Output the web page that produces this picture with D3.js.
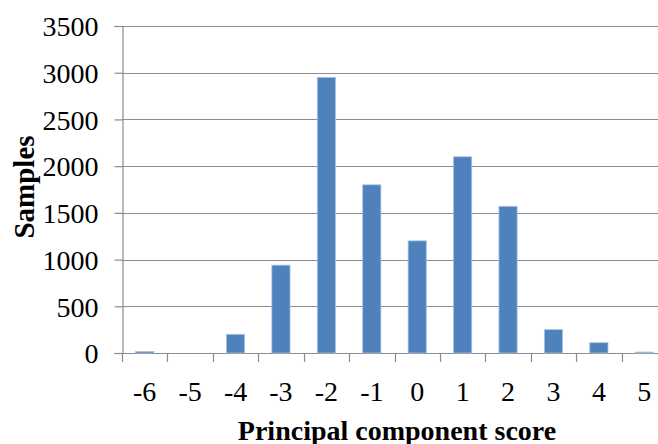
<!DOCTYPE html>
<html>
<head>
<meta charset="utf-8">
<script src="https://cdn.jsdelivr.net/npm/d3@7"></script>
<style>
  html, body { margin: 0; padding: 0; background: #fff; }
  svg { display: block; }
  svg text { font-family: "Liberation Serif", "Times New Roman", Times, "DejaVu Serif", serif; fill: #000; }
</style>
</head>
<body>
<div id="chart"></div>
<script>
// data
const scores = ["-6", "-5", "-4", "-3", "-2", "-1", "0", "1", "2", "3", "4", "5"];
const samples = [15, 0, 200, 940, 2950, 1800, 1200, 2100, 1570, 250, 110, 10];
const yTicks = [0, 500, 1000, 1500, 2000, 2500, 3000, 3500];

const width = 658, height = 444;
// plot area (the right side is cut off by the window, like the original)
const plot = { left: 122, right: 667, top: 26, bottom: 353 };

const svg = d3.select("#chart")
    .append("svg")
    .attr("width", width)
    .attr("height", height);

const x = d3.scaleBand()
    .domain(scores)
    .range([plot.left, plot.right])
    .paddingInner(0.6)
    .paddingOuter(0.3);

const y = d3.scaleLinear()
    .domain([0, 3500])
    .range([plot.bottom, plot.top]);

// gridlines
svg.append("g")
    .selectAll("line")
    .data(yTicks)
    .join("line")
    .attr("x1", plot.left)
    .attr("x2", plot.right)
    .attr("y1", d => Math.round(y(d)) + 0.5)
    .attr("y2", d => Math.round(y(d)) + 0.5)
    .attr("stroke", "#8c8c8c")
    .attr("stroke-width", 1.2);

// y axis
const yAxis = svg.append("g")
    .attr("transform", `translate(${plot.left + 0.5},0)`)
    .call(d3.axisLeft(y).tickValues(yTicks).tickSize(8).tickPadding(16).tickFormat(d3.format("d")));
yAxis.attr("font-family", null).attr("font-size", null);
yAxis.select(".domain").attr("stroke", "#8c8c8c").attr("stroke-width", 1.2);
yAxis.selectAll(".tick line").attr("stroke", "#8c8c8c").attr("stroke-width", 1.2);
yAxis.selectAll(".tick text")
    .style("font-size", "28px")
    .attr("dy", "0.35em");

// x axis: ticks sit on the band boundaries
const step = x.step();
const boundaries = scores.map((d, i) => plot.left + i * step).concat([plot.right]);
const xAxis = svg.append("g");
xAxis.selectAll("line")
    .data(boundaries)
    .join("line")
    .attr("x1", d => Math.round(d) + 0.5)
    .attr("x2", d => Math.round(d) + 0.5)
    .attr("y1", plot.bottom)
    .attr("y2", plot.bottom + 9)
    .attr("stroke", "#8c8c8c")
    .attr("stroke-width", 1.2);

xAxis.selectAll("text")
    .data(scores)
    .join("text")
    .attr("x", d => x(d) + x.bandwidth() / 2)
    .attr("y", 401)
    .attr("text-anchor", "middle")
    .style("font-size", "28px")
    .text(d => d);

// bars
svg.append("g")
    .selectAll("rect")
    .data(samples)
    .join("rect")
    .attr("x", (d, i) => x(scores[i]))
    .attr("y", d => y(d))
    .attr("width", x.bandwidth())
    .attr("height", d => y(0) - y(d))
    .attr("fill", "#4f81bd")
    .attr("stroke", "#a9c1e0")
    .attr("stroke-width", 0.8);

// axis titles
svg.append("text")
    .attr("x", 397)
    .attr("y", 440)
    .attr("text-anchor", "middle")
    .style("font-weight", "bold")
    .style("font-size", "28px")
    .text("Principal component score");

svg.append("text")
    .attr("transform", "translate(34,187) rotate(-90)")
    .attr("text-anchor", "middle")
    .style("font-weight", "bold")
    .style("font-size", "29px")
    .text("Samples");
</script>
</body>
</html>
